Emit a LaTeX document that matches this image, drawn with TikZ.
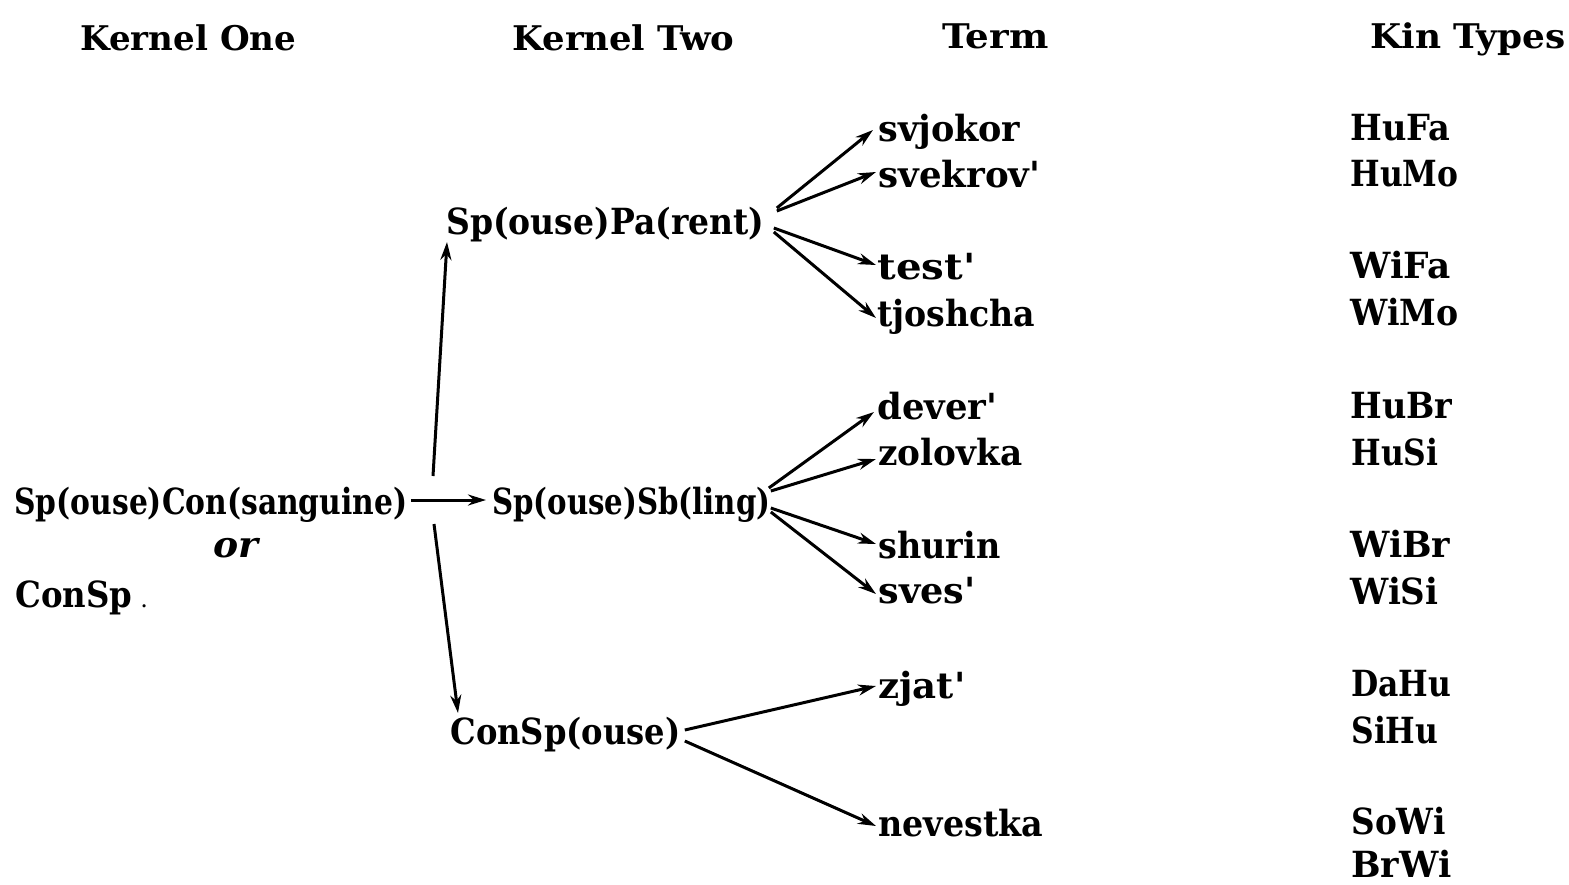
\documentclass[tikz,border=0pt]{standalone}
\usepackage{fontspec}
\usepackage{graphicx}
\setmainfont{DejaVu Serif}
\usetikzlibrary{arrows.meta}
\newcommand{\fw}[2]{\resizebox{#1pt}{\height}{#2}}
\newcommand{\ap}{\textquotesingle}
\begin{document}
\begin{tikzpicture}[x=0.5pt,y=-0.5pt,
  lbl/.style={anchor=base west,inner sep=0pt,font=\bfseries\fontsize{18}{18}\selectfont},
  hdr/.style={anchor=base west,inner sep=0pt,font=\bfseries\fontsize{17}{17}\selectfont},
  arr/.style={-{Stealth[length=9pt,width=5.5pt]},line width=1.5pt}]
\useasboundingbox (0,0) rectangle (1569,884);
% headers
\node[hdr] (h1) at (80,50) {\fw{108}{Kernel One}};
\node[hdr] (h2) at (512,50) {\fw{111}{Kernel Two}};
\node[hdr] (h3) at (942,48) {\fw{53}{Term}};
\node[hdr] (h4) at (1370,48) {\fw{97.5}{Kin Types}};
% kernel one
\node[lbl] (k1) at (14,514) {\fw{196.5}{Sp(ouse)Con(sanguine)}};
\node[lbl,font=\bfseries\itshape\fontsize{18}{18}\selectfont] (or) at (213,557) {\fw{22.5}{or}};
\node[lbl] (cs) at (15,607) {\fw{58.5}{ConSp}\hspace{4pt}{\mdseries\fontsize{12}{12}\selectfont.}};
\coordinate (hub) at (433,500);
% kernel two
\node[lbl] (spa) at (446,234) {\fw{159}{Sp(ouse)Pa(rent)}};
\node[lbl] (ssb) at (492,514) {\fw{139}{Sp(ouse)Sb(ling)}};
\node[lbl] (csp) at (450,744) {\fw{115}{ConSp(ouse)}};
% terms
\node[lbl] (t1) at (878,141) {\fw{71}{svjokor}};
\node[lbl] (t2) at (878,187) {\fw{81}{svekrov\ap}};
\node[lbl] (t3) at (877,279) {\fw{49}{test\ap}};
\node[lbl] (t4) at (877,326) {\fw{79}{tjoshcha}};
\node[lbl] (t5) at (877,419) {\fw{60}{dever\ap}};
\node[lbl] (t6) at (878,465) {\fw{72}{zolovka}};
\node[lbl] (t7) at (878,558) {\fw{61}{shurin}};
\node[lbl] (t8) at (878,603) {\fw{48.5}{sves\ap}};
\node[lbl] (t9) at (878,698) {\fw{43.5}{zjat\ap}};
\node[lbl] (t10) at (878,836) {\fw{82.5}{nevestka}};
% kin types
\node[lbl] (k01) at (1350,140) {\fw{50}{HuFa}};
\node[lbl] (k02) at (1350,186) {\fw{54}{HuMo}};
\node[lbl] (k03) at (1350,278) {\fw{50}{WiFa}};
\node[lbl] (k04) at (1350,325) {\fw{54}{WiMo}};
\node[lbl] (k05) at (1350,418) {\fw{51}{HuBr}};
\node[lbl] (k06) at (1351,465) {\fw{43.5}{HuSi}};
\node[lbl] (k07) at (1350,557) {\fw{50}{WiBr}};
\node[lbl] (k08) at (1350,604) {\fw{44}{WiSi}};
\node[lbl] (k09) at (1351,696) {\fw{50}{DaHu}};
\node[lbl] (k10) at (1351,743) {\fw{43.5}{SiHu}};
\node[lbl] (k11) at (1351,834) {\fw{47}{SoWi}};
\node[lbl] (k12) at (1351,877) {\fw{50}{BrWi}};
% arrows from kernel one
\draw[arr] ([shift={(0,-24)}]hub) -- ([shift={(1,8)}]spa.base west);
\draw[arr] ([shift={(1,24)}]hub) -- ([shift={(8,-31)}]csp.base west);
\draw[arr] ([shift={(3,-14)}]k1.base east) -- ([shift={(-6,-14)}]ssb.base west);
% from SpPa
\draw[arr] ([shift={(12,-26)}]spa.base east) -- ([shift={(-5,-11)}]t1.base west);
\draw[arr] ([shift={(12,-23)}]spa.base east) -- ([shift={(-2,-15)}]t2.base west);
\draw[arr] ([shift={(9,-6)}]spa.base east) -- ([shift={(-1,-14)}]t3.base west);
\draw[arr] ([shift={(9,-2)}]spa.base east) -- ([shift={(-1,-8)}]t4.base west);
% from SpSb
\draw[arr] ([shift={(-2,-26)}]ssb.base east) -- ([shift={(-3,-7)}]t5.base west);
\draw[arr] ([shift={(0,-23)}]ssb.base east) -- ([shift={(-2,-6)}]t6.base west);
\draw[arr] ([shift={(0,-6)}]ssb.base east) -- ([shift={(-2,-14)}]t7.base west);
\draw[arr] ([shift={(0,-2)}]ssb.base east) -- ([shift={(-2,-9)}]t8.base west);
% from ConSp
\draw[arr] ([shift={(4,-14)}]csp.base east) -- ([shift={(-2,-12)}]t9.base west);
\draw[arr] ([shift={(4,-3)}]csp.base east) -- ([shift={(-2,-10)}]t10.base west);
\end{tikzpicture}
\end{document}
